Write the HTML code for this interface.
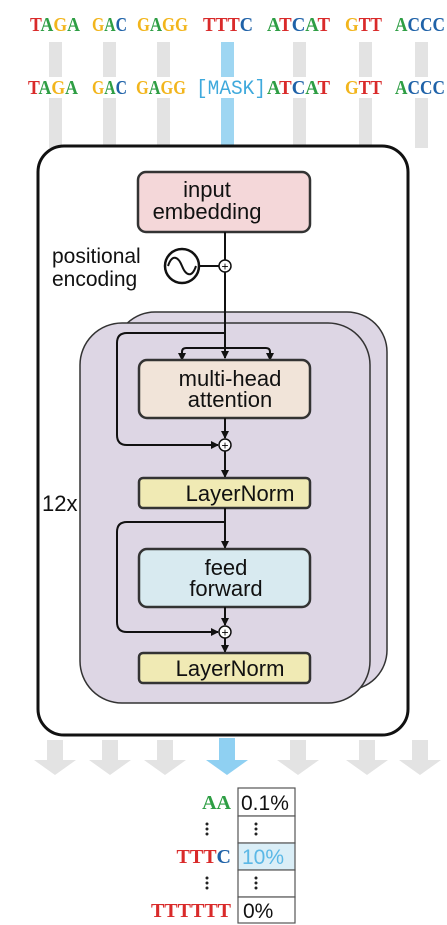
<!DOCTYPE html>
<html><head><meta charset="utf-8"><style>
html,body{margin:0;padding:0;background:#fff;width:447px;height:925px;overflow:hidden}
svg{display:block}
.tk{font-family:"Liberation Serif",serif;font-weight:bold;font-size:20px}
.sans{font-family:"Liberation Sans",sans-serif}
</style></head><body>
<svg width="447" height="925" viewBox="0 0 447 925" xmlns="http://www.w3.org/2000/svg">
<defs>
<marker id="ah" markerWidth="8" markerHeight="8" refX="7" refY="4" orient="auto" markerUnits="userSpaceOnUse">
<path d="M0,0 L8,4 L0,8 z" fill="#111"/></marker>
</defs>
<g fill="#e3e3e3">
<rect x="49" y="42" width="13" height="35"/><rect x="103" y="42" width="13" height="35"/><rect x="157" y="42" width="13" height="35"/>
<rect x="293" y="42" width="13" height="35"/><rect x="359" y="42" width="13" height="35"/><rect x="415" y="42" width="13" height="35"/>
<rect x="49" y="98" width="13" height="50"/><rect x="103" y="98" width="13" height="50"/><rect x="157" y="98" width="13" height="50"/>
<rect x="293" y="98" width="13" height="50"/><rect x="359" y="98" width="13" height="50"/><rect x="415" y="98" width="13" height="50"/>
</g>
<g fill="#9ed6f2"><rect x="221" y="42" width="13" height="35"/><rect x="221" y="98" width="13" height="50"/></g>
<g class="tk">
<text x="30" y="31" textLength="50" lengthAdjust="spacingAndGlyphs"><tspan fill="#d92a2a">T</tspan><tspan fill="#2e9e44">A</tspan><tspan fill="#f2b51c">G</tspan><tspan fill="#2e9e44">A</tspan></text>
<text x="92" y="31" textLength="35" lengthAdjust="spacingAndGlyphs"><tspan fill="#f2b51c">G</tspan><tspan fill="#2e9e44">A</tspan><tspan fill="#1f62a8">C</tspan></text>
<text x="137" y="31" textLength="51" lengthAdjust="spacingAndGlyphs"><tspan fill="#f2b51c">G</tspan><tspan fill="#2e9e44">A</tspan><tspan fill="#f2b51c">GG</tspan></text>
<text x="203" y="31" textLength="50" lengthAdjust="spacingAndGlyphs"><tspan fill="#d92a2a">TTT</tspan><tspan fill="#1f62a8">C</tspan></text>
<text x="267" y="31" textLength="63" lengthAdjust="spacingAndGlyphs"><tspan fill="#2e9e44">A</tspan><tspan fill="#d92a2a">T</tspan><tspan fill="#1f62a8">C</tspan><tspan fill="#2e9e44">A</tspan><tspan fill="#d92a2a">T</tspan></text>
<text x="345" y="31" textLength="37" lengthAdjust="spacingAndGlyphs"><tspan fill="#f2b51c">G</tspan><tspan fill="#d92a2a">TT</tspan></text>
<text x="395" y="31" textLength="50" lengthAdjust="spacingAndGlyphs"><tspan fill="#2e9e44">A</tspan><tspan fill="#1f62a8">CCC</tspan></text>
<text x="28" y="94" textLength="50" lengthAdjust="spacingAndGlyphs"><tspan fill="#d92a2a">T</tspan><tspan fill="#2e9e44">A</tspan><tspan fill="#f2b51c">G</tspan><tspan fill="#2e9e44">A</tspan></text>
<text x="92" y="94" textLength="35" lengthAdjust="spacingAndGlyphs"><tspan fill="#f2b51c">G</tspan><tspan fill="#2e9e44">A</tspan><tspan fill="#1f62a8">C</tspan></text>
<text x="136" y="94" textLength="50" lengthAdjust="spacingAndGlyphs"><tspan fill="#f2b51c">G</tspan><tspan fill="#2e9e44">A</tspan><tspan fill="#f2b51c">GG</tspan></text>
<text x="267" y="94" textLength="63" lengthAdjust="spacingAndGlyphs"><tspan fill="#2e9e44">A</tspan><tspan fill="#d92a2a">T</tspan><tspan fill="#1f62a8">C</tspan><tspan fill="#2e9e44">A</tspan><tspan fill="#d92a2a">T</tspan></text>
<text x="345" y="94" textLength="37" lengthAdjust="spacingAndGlyphs"><tspan fill="#f2b51c">G</tspan><tspan fill="#d92a2a">TT</tspan></text>
<text x="395" y="94" textLength="50" lengthAdjust="spacingAndGlyphs"><tspan fill="#2e9e44">A</tspan><tspan fill="#1f62a8">CCC</tspan></text>
</g>
<text x="196" y="94" font-family="Liberation Mono,monospace" font-size="20" fill="#3fa9dc" textLength="70" lengthAdjust="spacingAndGlyphs">[MASK]</text>
<rect x="38" y="146" width="370" height="589" rx="26" fill="#fff" stroke="#111" stroke-width="3"/>
<rect x="115" y="312" width="272" height="378" rx="40" fill="#ddd6e4" stroke="#333" stroke-width="1.5"/>
<rect x="80" y="323" width="290" height="380" rx="42" fill="#ddd6e4" stroke="#333" stroke-width="1.5"/>
<rect x="138" y="172" width="172" height="60" rx="8" fill="#f4d7d9" stroke="#333" stroke-width="2.5"/>
<text class="sans" x="207" y="197" font-size="22" text-anchor="middle" fill="#111">input</text>
<text class="sans" x="207" y="219" font-size="22" text-anchor="middle" fill="#111">embedding</text>
<text class="sans" x="52" y="263" font-size="21" fill="#111">positional</text>
<text class="sans" x="52" y="286" font-size="21" fill="#111">encoding</text>
<circle cx="182" cy="266" r="17" fill="#fff" stroke="#111" stroke-width="2.5"/>
<path d="M168,266 C172,254 178,256 182,266 C186,276 192,278 196,266" fill="none" stroke="#111" stroke-width="2"/>
<line x1="199" y1="266" x2="219" y2="266" stroke="#111" stroke-width="2"/>
<line x1="225" y1="232" x2="225" y2="260" stroke="#111" stroke-width="2"/>
<line x1="225" y1="272" x2="225" y2="358" stroke="#111" stroke-width="2" marker-end="url(#ah)"/>
<circle cx="225" cy="266" r="6" fill="#fff" stroke="#111" stroke-width="1.5"/>
<text class="sans" x="225" y="270.5" font-size="12" text-anchor="middle">+</text>
<path d="M182,360 L182,352 Q182,348 186,348 L266,348 Q270,348 270,352 L270,360" fill="none" stroke="#111" stroke-width="2"/>
<path d="M178,353 L182,361 L186,353 z M266,353 L270,361 L274,353 z" fill="#111"/>
<path d="M225,333 L127,333 Q117,333 117,343 L117,435 Q117,445 127,445 L218,445" fill="none" stroke="#111" stroke-width="2" marker-end="url(#ah)"/>
<rect x="139" y="360" width="171" height="58" rx="8" fill="#f1e4d9" stroke="#333" stroke-width="2.5"/>
<text class="sans" x="230" y="386" font-size="22" text-anchor="middle" fill="#111">multi-head</text>
<text class="sans" x="230" y="407" font-size="22" text-anchor="middle" fill="#111">attention</text>
<line x1="225" y1="418" x2="225" y2="438" stroke="#111" stroke-width="2" marker-end="url(#ah)"/>
<circle cx="225" cy="445" r="6" fill="#fff" stroke="#111" stroke-width="1.5"/>
<text class="sans" x="225" y="449.5" font-size="12" text-anchor="middle">+</text>
<line x1="225" y1="451" x2="225" y2="477" stroke="#111" stroke-width="2" marker-end="url(#ah)"/>
<rect x="139" y="478" width="171" height="30" rx="4" fill="#f0eab4" stroke="#333" stroke-width="2.5"/>
<text class="sans" x="240" y="501" font-size="22" text-anchor="middle" fill="#111">LayerNorm</text>
<text class="sans" x="42" y="511" font-size="22" fill="#111">12x</text>
<line x1="225" y1="508" x2="225" y2="548" stroke="#111" stroke-width="2" marker-end="url(#ah)"/>
<path d="M225,522 L127,522 Q117,522 117,532 L117,622 Q117,632 127,632 L218,632" fill="none" stroke="#111" stroke-width="2" marker-end="url(#ah)"/>
<rect x="139" y="549" width="171" height="58" rx="8" fill="#d8eaf0" stroke="#333" stroke-width="2.5"/>
<text class="sans" x="226" y="575" font-size="22" text-anchor="middle" fill="#111">feed</text>
<text class="sans" x="226" y="596" font-size="22" text-anchor="middle" fill="#111">forward</text>
<line x1="225" y1="607" x2="225" y2="625" stroke="#111" stroke-width="2" marker-end="url(#ah)"/>
<circle cx="225" cy="632" r="6" fill="#fff" stroke="#111" stroke-width="1.5"/>
<text class="sans" x="225" y="636.5" font-size="12" text-anchor="middle">+</text>
<line x1="225" y1="638" x2="225" y2="652" stroke="#111" stroke-width="2" marker-end="url(#ah)"/>
<rect x="139" y="653" width="171" height="30" rx="4" fill="#f0eab4" stroke="#333" stroke-width="2.5"/>
<text class="sans" x="230" y="676" font-size="22" text-anchor="middle" fill="#111">LayerNorm</text>
<g fill="#e3e3e3">
<path d="M47,740 h16 v20 h13 l-21,15 l-21,-15 h13 z"/>
<path d="M102,740 h16 v20 h13 l-21,15 l-21,-15 h13 z"/>
<path d="M157,740 h16 v20 h13 l-21,15 l-21,-15 h13 z"/>
<path d="M290,740 h16 v20 h13 l-21,15 l-21,-15 h13 z"/>
<path d="M359,740 h16 v20 h13 l-21,15 l-21,-15 h13 z"/>
<path d="M412,740 h16 v20 h13 l-21,15 l-21,-15 h13 z"/>
</g>
<path d="M219,738 h16 v22 h13 l-21,15 l-21,-15 h13 z" fill="#8fd0f2"/>
<g stroke="#555" stroke-width="1.2">
<rect x="238" y="788" width="57" height="28" fill="#fff"/>
<rect x="238" y="816" width="57" height="27" fill="#fff"/>
<rect x="238" y="843" width="57" height="27" fill="#daeef7"/>
<rect x="238" y="870" width="57" height="27" fill="#fff"/>
<rect x="238" y="897" width="57" height="26" fill="#fff"/>
</g>
<text class="sans" x="241" y="810" font-size="21" fill="#111">0.1%</text>
<text class="sans" x="242" y="864" font-size="21" fill="#5bb8e6">10%</text>
<text class="sans" x="243" y="918" font-size="21" fill="#111">0%</text>
<g fill="#222">
<circle cx="207" cy="824" r="1.5"/><circle cx="207" cy="829" r="1.5"/><circle cx="207" cy="834" r="1.5"/>
<circle cx="256" cy="824" r="1.5"/><circle cx="256" cy="829" r="1.5"/><circle cx="256" cy="834" r="1.5"/>
<circle cx="207" cy="878" r="1.5"/><circle cx="207" cy="883" r="1.5"/><circle cx="207" cy="888" r="1.5"/>
<circle cx="256" cy="878" r="1.5"/><circle cx="256" cy="883" r="1.5"/><circle cx="256" cy="888" r="1.5"/>
</g>
<g class="tk" text-anchor="end">
<text x="231" y="809" fill="#2e9e44">AA</text>
<text x="231" y="863"><tspan fill="#d92a2a">TTT</tspan><tspan fill="#1f62a8">C</tspan></text>
<text x="231" y="917" fill="#d92a2a">TTTTTT</text>
</g>
</svg>
</body></html>
